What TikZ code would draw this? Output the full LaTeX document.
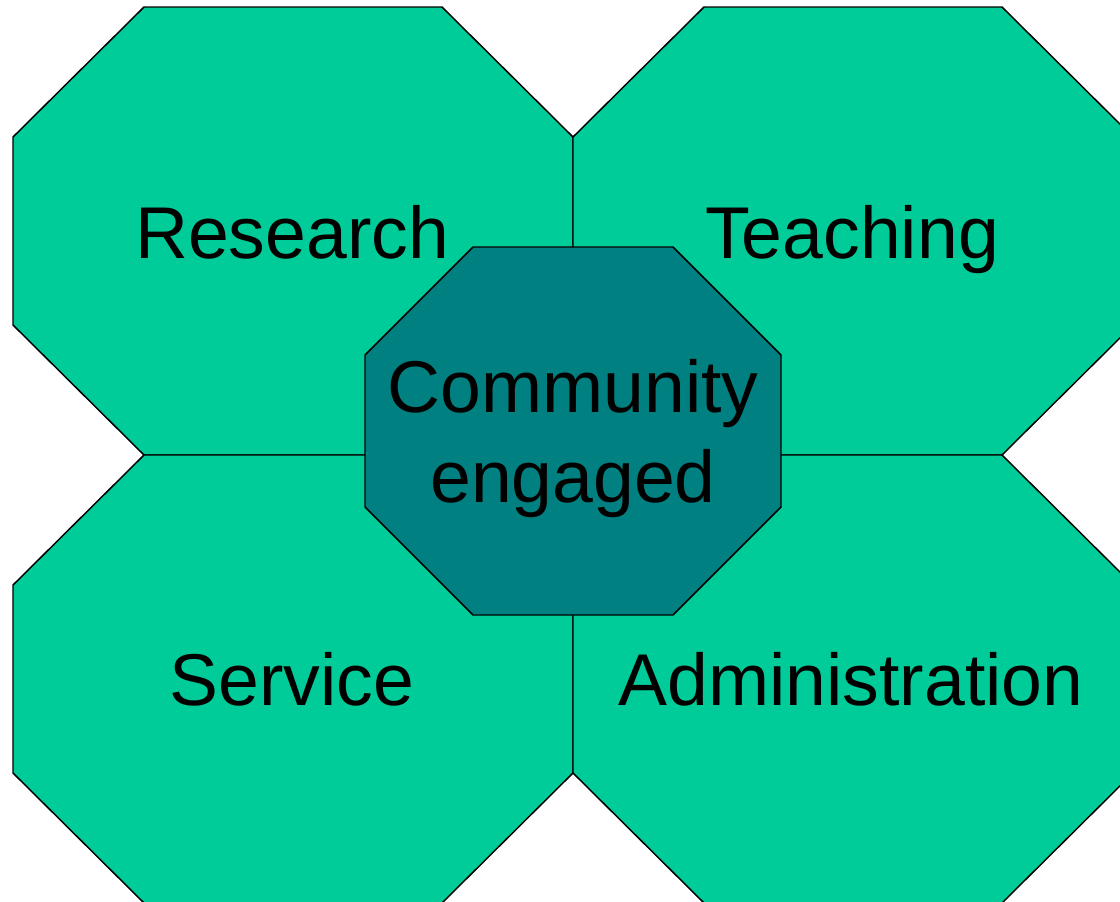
\documentclass[tikz,border=0pt]{standalone}
\usepackage{fontspec}
\setmainfont{Liberation Sans}
\definecolor{sidegreen}{RGB}{0,204,153}
\definecolor{coreteal}{RGB}{0,128,128}
\tikzset{
  side/.style={fill=sidegreen, draw=black, line width=1.1pt, line join=miter},
  core/.style={fill=coreteal, draw=black, line width=1.1pt, line join=miter},
  label/.style={font=\fontsize{55}{67.5}\selectfont, text=black, inner sep=0pt}
}

\begin{document}
\begin{tikzpicture}[x=0.75pt, y=-0.75pt]
  \useasboundingbox (0,0) rectangle (1120,901);
  \begin{scope}
    \clip (0,0) rectangle (1120,901);
    % four outer octagons
    \draw [side] (144,7) -- (442,7) -- (573,137) -- (573,325) -- (442,455) -- (144,455) -- (13,325) -- (13,137) -- cycle;
    \draw [side] (704,7) -- (1002,7) -- (1133,137) -- (1133,325) -- (1002,455) -- (704,455) -- (573,325) -- (573,137) -- cycle;
    \draw [side] (144,455) -- (442,455) -- (573,585) -- (573,773) -- (442,903) -- (144,903) -- (13,773) -- (13,585) -- cycle;
    \draw [side] (704,455) -- (1002,455) -- (1133,585) -- (1133,773) -- (1002,903) -- (704,903) -- (573,773) -- (573,585) -- cycle;
    % centre octagon
    \draw [core] (473,247) -- (673,247) -- (781,355) -- (781,507) -- (673,615) -- (473,615) -- (365,507) -- (365,355) -- cycle;
  \end{scope}
  \node [label, anchor=base] (research) at (292,258) {Research};
  \node [label, anchor=base] (teaching) at (852,258) {Teaching};
  \node [label, anchor=base] (service) at (292,705) {Service};
  \node [label, anchor=base] (admin) at (851,705) {Administration};
  \node [label, align=center] (community) at (573,439) {Community\\engaged};
\end{tikzpicture}
\end{document}
